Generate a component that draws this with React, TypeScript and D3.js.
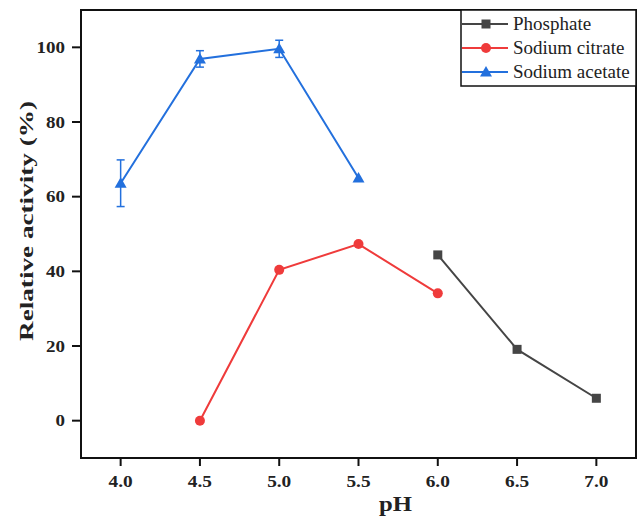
import React from "react";
import * as d3 from "d3";

const phX = [6.0, 6.5, 7.0];
const phosphate = [44.4, 19.1, 6.0];
const citrateX = [4.5, 5.0, 5.5, 6.0];
const citrate = [0, 40.4, 47.3, 34.1];
const acetateX = [4.0, 4.5, 5.0, 5.5];
const acetate = [63.6, 96.9, 99.6, 65.0];
const acetateErr = [6.25, 2.2, 2.3, 0];
const xTicks = [4.0, 4.5, 5.0, 5.5, 6.0, 6.5, 7.0];
const yTicks = [0, 20, 40, 60, 80, 100];
const seriesNames = ["Phosphate", "Sodium citrate", "Sodium acetate"];
const colors = ["#454545", "#ef3b3b", "#2370dd"];

const W = 637, H = 519;
const L = 81, R = 636, T = 10, B = 458;

const charW = (s: string, fs: number, k: number) =>
  s.split("").reduce((a, c) => a + (c === "." ? 0.25 : 0.5), 0) * fs * k;

function Marker({ type, x, y, color }: { type: number; x: number; y: number; color: string }) {
  if (type === 0) return <rect x={x - 4.5} y={y - 4.5} width={9} height={9} fill={color} />;
  if (type === 1) return <circle cx={x} cy={y} r={5} fill={color} />;
  const s = 6;
  return <path d={`M${x},${y - s}L${x + s},${y + s * 0.75}L${x - s},${y + s * 0.75}Z`} fill={color} />;
}

export default function App() {
  const x = d3.scaleLinear().domain([3.75, 7.25]).range([L, R]);
  const y = d3.scaleLinear().domain([-10, 110]).range([B, T]);
  const line = d3.line<[number, number]>().x((d) => x(d[0])).y((d) => y(d[1]));
  const series = [
    { xs: phX, ys: phosphate },
    { xs: citrateX, ys: citrate },
    { xs: acetateX, ys: acetate },
  ];
  const serif = "Liberation Serif, Times New Roman, serif";
  return (
    <svg width={W} height={H} style={{ position: "absolute", left: 0, top: 0, background: "#fff" }}>
      {yTicks.map((t) => (
        <g key={t}>
          <line x1={L - 9} x2={L} y1={y(t)} y2={y(t)} stroke="#111" strokeWidth={2} />
          <text
            x={65}
            y={y(t) + 5.5}
            textAnchor="end"
            fontFamily={serif}
            fontWeight="bold"
            fontSize={16.5}
            textLength={charW(String(t), 16.5, 1.15)}
            lengthAdjust="spacingAndGlyphs"
            fill="#222"
          >
            {t}
          </text>
        </g>
      ))}
      {xTicks.map((t) => (
        <g key={t}>
          <line x1={x(t)} x2={x(t)} y1={B} y2={B + 8} stroke="#111" strokeWidth={2} />
          <text
            x={x(t)}
            y={487}
            textAnchor="middle"
            fontFamily={serif}
            fontWeight="bold"
            fontSize={16.5}
            textLength={charW(t.toFixed(1), 16.5, 1.17)}
            lengthAdjust="spacingAndGlyphs"
            fill="#222"
          >
            {t.toFixed(1)}
          </text>
        </g>
      ))}
      <text
        x={395.5}
        y={511}
        textAnchor="middle"
        fontFamily={serif}
        fontWeight="bold"
        fontSize={20}
        textLength={33}
        lengthAdjust="spacingAndGlyphs"
        fill="#222"
      >
        pH
      </text>
      <text
        transform={`translate(32.5,221) rotate(-90)`}
        textAnchor="middle"
        fontFamily={serif}
        fontWeight="bold"
        fontSize={19.5}
        textLength={240}
        lengthAdjust="spacingAndGlyphs"
        fill="#222"
      >
        Relative activity (%)
      </text>
      {series.map((s, i) => (
        <path
          key={i}
          d={line(s.xs.map((v, j) => [v, s.ys[j]] as [number, number])) || ""}
          fill="none"
          stroke={colors[i]}
          strokeWidth={2}
        />
      ))}
      {acetateX.map((v, j) =>
        acetateErr[j] > 0 ? (
          <g key={j} stroke={colors[2]} strokeWidth={1.5}>
            <line x1={x(v)} x2={x(v)} y1={y(acetate[j] - acetateErr[j])} y2={y(acetate[j] + acetateErr[j])} />
            <line x1={x(v) - 4} x2={x(v) + 4} y1={y(acetate[j] - acetateErr[j])} y2={y(acetate[j] - acetateErr[j])} />
            <line x1={x(v) - 4} x2={x(v) + 4} y1={y(acetate[j] + acetateErr[j])} y2={y(acetate[j] + acetateErr[j])} />
          </g>
        ) : null
      )}
      {series.map((s, i) =>
        s.xs.map((v, j) => <Marker key={`${i}-${j}`} type={i} x={x(v)} y={y(s.ys[j])} color={colors[i]} />)
      )}
      <rect x={L} y={T} width={R - L} height={B - T} fill="none" stroke="#111" strokeWidth={2} />
      <rect x={461} y={T} width={R - 461} height={76} fill="#fff" stroke="#111" strokeWidth={1.5} />
      {seriesNames.map((n, i) => {
        const ly = 24 + i * 24;
        return (
          <g key={n}>
            <line x1={462} x2={508} y1={ly} y2={ly} stroke={colors[i]} strokeWidth={2} />
            <Marker type={i} x={486} y={ly} color={colors[i]} />
            <text x={513} y={ly + 6} fontFamily={serif} fontSize={19} fill="#222">
              {n}
            </text>
          </g>
        );
      })}
    </svg>
  );
}
